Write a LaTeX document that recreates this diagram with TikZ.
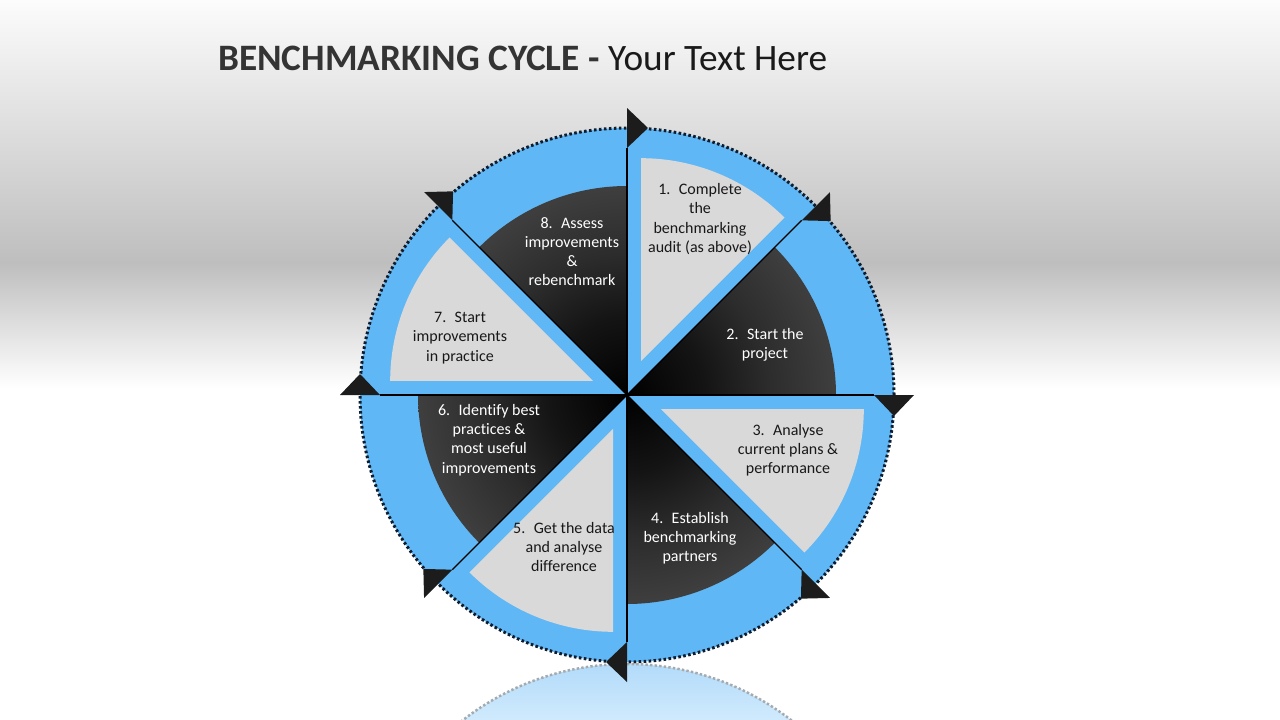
\documentclass[tikz,border=0pt]{standalone}
\usepackage{fontspec}
\setmainfont{Carlito}[Ligatures={NoCommon}]
\definecolor{ringblue}{RGB}{95,183,245}
\definecolor{pgray}{RGB}{217,217,217}
\definecolor{dotnavy}{RGB}{14,28,48}
\definecolor{tri}{RGB}{28,28,28}
\definecolor{lbltext}{RGB}{24,24,24}
\definecolor{titledark}{RGB}{52,52,52}
\definecolor{titlereg}{RGB}{26,26,26}
\definecolor{dkA}{RGB}{20,20,20}
\definecolor{dkB}{RGB}{44,44,44}
\definecolor{dkC}{RGB}{62,62,62}
\definecolor{dkD}{RGB}{74,74,74}
\definecolor{dkE}{RGB}{76,76,76}
\definecolor{bgmid}{RGB}{190,190,190}
\definecolor{bgtop}{RGB}{252,252,252}
\definecolor{reftop}{RGB}{178,219,250}
\definecolor{refbot}{RGB}{208,234,253}
\definecolor{refdot}{RGB}{165,170,175}
\pgfdeclareradialshading{darkpie}{\pgfpoint{0bp}{0bp}}{color(0bp)=(black); color(9.3bp)=(dkA); color(16.9bp)=(dkB); color(24.7bp)=(dkC); color(33.8bp)=(dkD); color(50bp)=(dkE)}
\tikzset{
  lbl/.style={align=center, font=\fontsize{16}{19.2}\selectfont, inner sep=0pt},
  glbl/.style={lbl, text=lbltext},
  dlbl/.style={lbl, text=white},
  graypie/.style={fill=pgray},
  divline/.style={draw=black, line width=1.3pt},
  arrowtri/.style={fill=tri},
  ringborder/.style={draw=dotnavy, line width=3pt, dash pattern=on 2.6pt off 2.4pt}
}
\begin{document}
\begin{tikzpicture}[x=1pt,y=1pt]
\useasboundingbox (0,0) rectangle (1280,-720);
% background
\fill[white] (0,0) rectangle (1280,-720);
\shade[top color=bgtop, bottom color=bgmid] (0,0) rectangle (1280,-263);
\shade[top color=bgmid, bottom color=white] (0,-263) rectangle (1280,-388);
% title
\node[anchor=base west, inner sep=0pt, font=\fontsize{37.3}{44}\selectfont] (title) at (218,-70)
  {\textcolor{titledark}{\textbf{BENCHMARKING CYCLE -}} \textcolor{titlereg}{Your Text Here}};
% reflection
\begin{scope}
  \clip (0,0) rectangle (1280,-720);
  \begin{scope}
    \clip (627,-932) circle (268);
    \shade[top color=reftop, bottom color=refbot] (300,-664) rectangle (960,-720);
  \end{scope}
  \draw[refdot, line width=2.5pt, dash pattern=on 2.4pt off 2.2pt] (627,-932) circle (268);
\end{scope}
\begin{scope}[shift={(627,-395)}]
  % blue ring
  \fill[ringblue] (0,0) circle (267);
  \draw[ringborder] (0,0) circle (267);
  % dark sectors
  \begin{scope}
    \clip (0,0) -- (0:209) arc[start angle=0, end angle=45, radius=209] -- cycle
          (0,0) -- (90:209) arc[start angle=90, end angle=135, radius=209] -- cycle
          (0,0) -- (180:209) arc[start angle=180, end angle=225, radius=209] -- cycle
          (0,0) -- (270:209) arc[start angle=270, end angle=315, radius=209] -- cycle;
    \shade[shading=darkpie] (0,0) circle (209);
  \end{scope}
  % gray sectors (offset)
  \foreach \a in {45,135,225,315}{
    \fill[graypie] (\a+22.5:36.6) -- ++(\a:203) arc[start angle=\a, end angle=\a+45, radius=203] -- cycle;
  }
  % dividing lines
  \foreach \a in {0,45,...,315}{
    \draw[divline] (\a:247) -- (0,0);
  }
  % arrow triangles
  \foreach \a in {0,45,...,315}{
    \fill[arrowtri, rotate=\a] (247,0) -- (287,0) -- (267,-21) -- cycle;
  }
  % labels
  \node[glbl] (t1) at (73,176) {1.~ Complete\\the\\benchmarking\\audit (as above)};
  \node[dlbl] (t2) at (138,50.5) {2.~ Start the\\project};
  \node[glbl] (t3) at (161,-55) {3.~ Analyse\\current plans \&\\performance};
  \node[dlbl] (t4) at (63,-143) {4.~ Establish\\benchmarking\\partners};
  \node[glbl] (t5) at (-63,-152) {5.~ Get the data\\and analyse\\difference};
  \node[dlbl] (t6) at (-138,-45) {6.~ Identify best\\practices \&\\most useful\\improvements};
  \node[glbl] (t7) at (-167,57) {7.~ Start\\improvements\\in practice};
  \node[dlbl] (t8) at (-55,143.5) {8.~ Assess\\improvements\\\&\\rebenchmark};
\end{scope}
\end{tikzpicture}
\end{document}
